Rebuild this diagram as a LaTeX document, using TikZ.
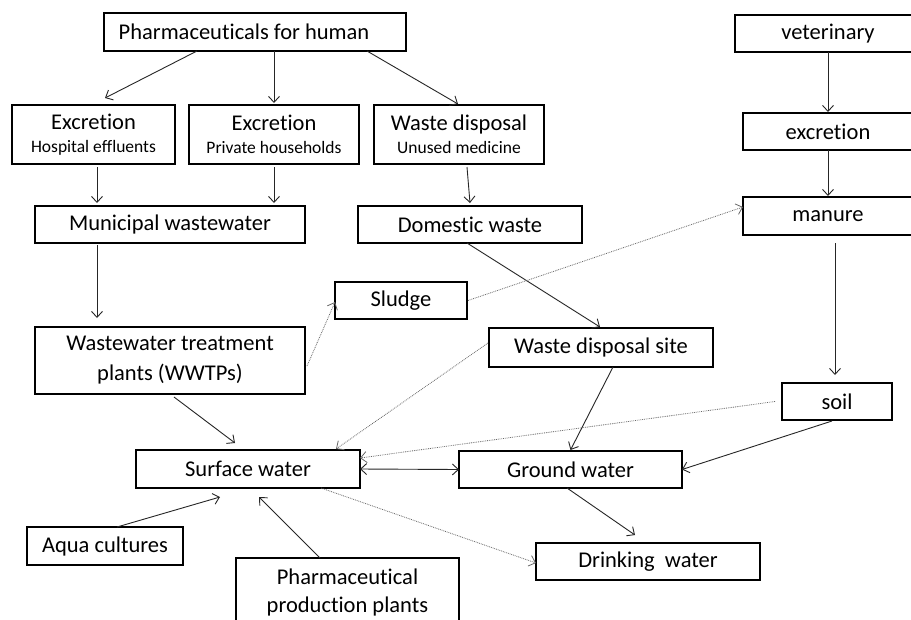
\documentclass[tikz,border=0pt]{standalone}
\usepackage{fontspec}
\setmainfont{Carlito}[Ligatures=NoCommon]
\usetikzlibrary{arrows.meta}
\begin{document}
\begin{tikzpicture}[x=1pt,y=-1pt,
  >={Straight Barb[length=6pt,width=11pt]},
  box/.style={draw, line width=2.1pt, inner sep=0pt, outer sep=0pt, anchor=north west, align=center, font=\fontsize{22.5}{28}\selectfont},
  arr/.style={line width=0.9pt, draw=black!85, ->},
  dot/.style={line width=0.8pt, draw=black!60, densely dotted, ->}]
\newcommand\sm{\fontsize{17.5}{20}\selectfont}
\useasboundingbox (0,0) rectangle (911,619);
\fill[white] (0,0) rectangle (911,619);
\clip (0,0) rectangle (911,619);
% boxes
\node[box, minimum width=302pt, minimum height=38pt] (ph) at (104,13) {\hspace*{-22pt}Pharmaceuticals for human};
\node[box, minimum width=163pt, minimum height=59pt] (exh) at (12,105) {Excretion\\[-5pt]{\sm Hospital effluents}};
\node[box, minimum width=170pt, minimum height=59pt] (exp) at (189,105) {Excretion\\[-5pt]{\sm Private households}};
\node[box, minimum width=170pt, minimum height=59pt] (wd) at (374,105) {Waste disposal\\[-5pt]{\sm Unused medicine}};
\node[box, minimum width=270pt, minimum height=37pt] (mun) at (35,206) {Municipal wastewater};
\node[box, minimum width=224pt, minimum height=37pt] (dom) at (358,206) {Domestic waste};
\node[box, minimum width=186pt, minimum height=37pt] (vet) at (735,15) {veterinary};
\node[box, minimum width=170pt, minimum height=37pt] (exv) at (743,113) {excretion};
\node[box, minimum width=170pt, minimum height=38pt] (man) at (743,197) {manure};
\node[box, minimum width=132pt, minimum height=37pt] (slu) at (335,282) {Sludge};
\node[box, minimum width=224pt, minimum height=39pt] (wds) at (489,328) {Waste disposal site};
\node[box, minimum width=270pt, minimum height=67pt] (wwtp) at (35,327) {Wastewater treatment\\[2pt]plants (WWTPs)};
\node[box, minimum width=110pt, minimum height=37pt] (soil) at (782,383) {soil};
\node[box, minimum width=224pt, minimum height=38pt] (sw) at (136,450) {Surface water};
\node[box, minimum width=223pt, minimum height=37pt] (gw) at (459,451) {Ground water};
\node[box, minimum width=156pt, minimum height=38pt] (aq) at (27,527) {Aqua cultures};
\node[box, minimum width=223pt, minimum height=68pt] (ppp) at (236,558) {Pharmaceutical\\production plants};
\node[box, minimum width=224pt, minimum height=37pt] (dw) at (536,543) {Drinking~~water};
% connectors
\draw[arr] ([xshift=-58pt]ph.south) -- ([xshift=11.5pt,yshift=7pt]exh.north);
\draw[arr] ([xshift=19pt]ph.south) -- ([xshift=0pt,yshift=2pt]exp.north);
\draw[arr] ([xshift=112pt]ph.south) -- ([xshift=-1pt,yshift=1pt]wd.north);
\draw[arr] ([xshift=3.5pt,yshift=-3pt]exh.south) -- ([xshift=-73pt,yshift=3pt]mun.north);
\draw[arr] ([yshift=-3pt]exp.south) -- ([xshift=104pt,yshift=3pt]mun.north);
\draw[arr] ([xshift=8pt,yshift=-3pt]wd.south) -- ([yshift=3pt]dom.north);
\draw[arr] ([xshift=-73pt,yshift=-2pt]mun.south) -- ([xshift=-73pt,yshift=9pt]wwtp.north);
\draw[arr] ([xshift=-3pt]dom.south) -- ([xshift=-1pt,yshift=1pt]wds.north);
\draw[arr] (vet.south) -- ([yshift=1pt]exv.north);
\draw[arr] (exv.south) -- ([yshift=1pt]man.north);
\draw[arr] ([xshift=7pt,yshift=-8pt]man.south) -- ([xshift=-2pt,yshift=8pt]soil.north);
\draw[dot] ([xshift=1pt]slu.east) -- ([yshift=9pt]man.west);
\draw[dot] ([xshift=2pt,yshift=-5.5pt]wwtp.east) -- ([yshift=-1.5pt]slu.west);
\draw[arr] ([xshift=4pt,yshift=-3pt]wwtp.south) -- ([xshift=-13pt,yshift=7pt]sw.north);
\draw[dot] ([xshift=-1pt,yshift=4.5pt]wds.west) -- ([xshift=88pt,yshift=1pt]sw.north);
\draw[dot] ([xshift=-7pt]soil.west) -- ([yshift=11pt]sw.east);
\draw[arr] ([xshift=12pt]wds.south) -- ([yshift=1pt]gw.north);
\draw[arr] ([xshift=-5pt,yshift=-1pt]soil.south) -- (gw.east);
\draw[arr, <->] (sw.east) -- (gw.west);
\draw[arr] ([xshift=-3.5pt]gw.south) -- ([xshift=-13pt,yshift=8pt]dw.north);
\draw[dot] ([xshift=73pt]sw.south) -- ([yshift=-1.5pt]dw.west);
\draw[arr] ([xshift=12pt]aq.north) -- ([xshift=-28pt,yshift=-9pt]sw.south);
\draw[arr] ([xshift=-27.5pt]ppp.north) -- ([xshift=11pt,yshift=-9pt]sw.south);
\end{tikzpicture}
\end{document}
